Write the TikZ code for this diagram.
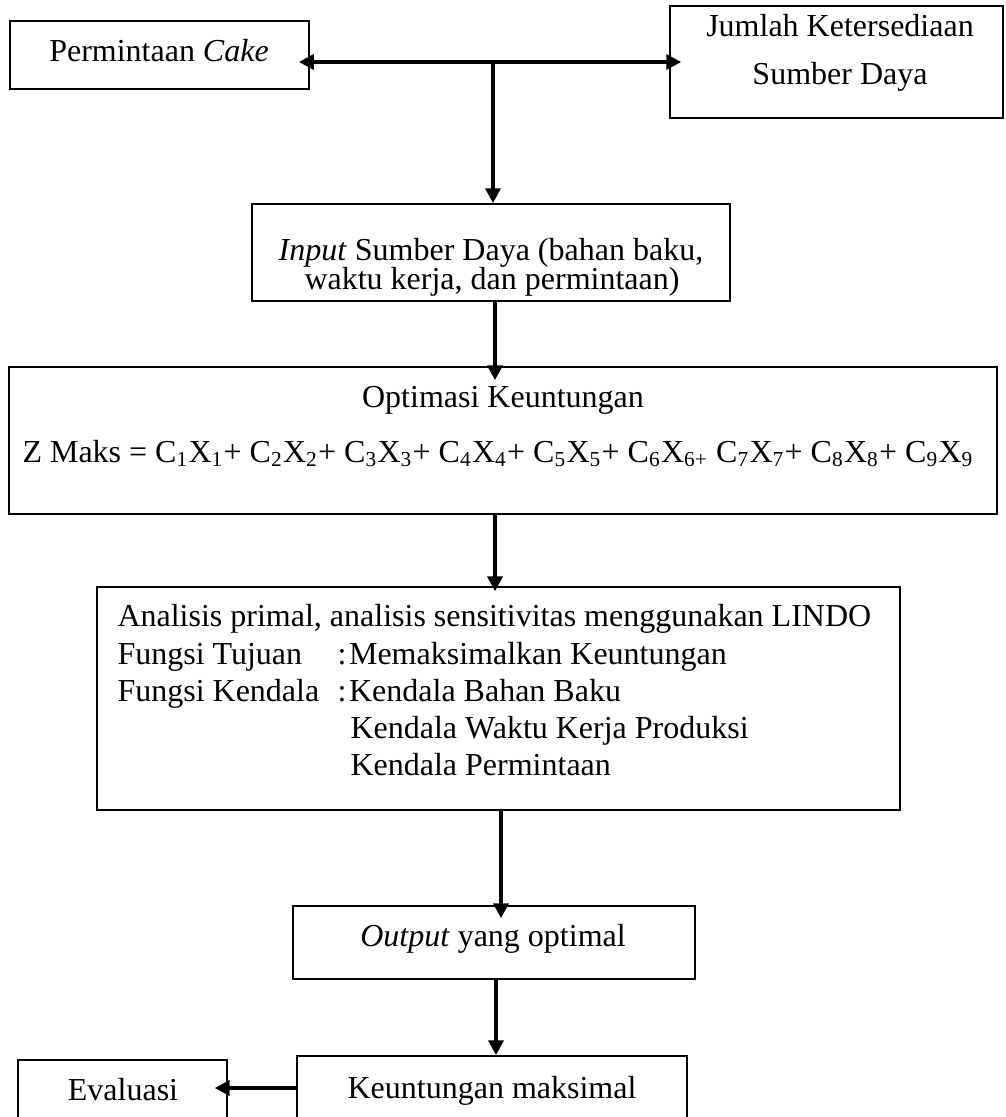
\documentclass[tikz,border=0pt]{standalone}
\usepackage{fontspec}
\setmainfont{Liberation Serif}
\usetikzlibrary{arrows.meta,fit,calc}
\begin{document}
\begin{tikzpicture}[x=0.375pt,y=-0.375pt,
  box/.style={draw,line width=0.6pt,inner sep=0pt},
  txt/.style={inner sep=0pt,anchor=base,font=\fontsize{12}{14}\selectfont},
  txtl/.style={txt,anchor=base west},
  arr/.style={line width=1.5pt,-{Triangle[length=5.6pt,width=5.6pt]}},
  darr/.style={line width=1.5pt,{Triangle[length=5.6pt,width=5.6pt]}-{Triangle[length=5.6pt,width=5.6pt]}}]
\useasboundingbox (0,0) rectangle (1005,1117);
% boxes
\node[box,fit={(10,21) (309,89)}] (perm) {};
\node[box,fit={(670,6) (1003,118)}] (jumlah) {};
\node[box,fit={(252,204) (730,301)}] (input) {};
\node[box,fit={(9,367) (997,514)}] (optim) {};
\node[box,fit={(97,587) (900,810)}] (anal) {};
\node[box,fit={(293,906) (695,979)}] (output) {};
\node[box,fit={(297,1056) (687,1130)}] (keunt) {};
\node[box,fit={(18,1060) (227,1130)}] (eval) {};
% texts
\node[txt] (tperm) at (159,62) {Permintaan \textit{Cake}};
\node[txt] (tjum1) at (840,37) {Jumlah Ketersediaan};
\node[txt] (tjum2) at (840,84) {Sumber Daya};
\node[txt] (tin1) at (491,260) {\textit{Input} Sumber Daya (bahan baku,};
\node[txt] (tin2) at (492,289) {waktu kerja, dan permintaan)};
\node[txt] (topt) at (503,407) {Optimasi Keuntungan};
\node[txtl] (tz) at (22,462) {Z Maks = C\textsubscript{1}X\textsubscript{1}+ C\textsubscript{2}X\textsubscript{2}+ C\textsubscript{3}X\textsubscript{3}+ C\textsubscript{4}X\textsubscript{4}+ C\textsubscript{5}X\textsubscript{5}+ C\textsubscript{6}X\textsubscript{6+} C\textsubscript{7}X\textsubscript{7}+ C\textsubscript{8}X\textsubscript{8}+ C\textsubscript{9}X\textsubscript{9}};
\node[txtl] (ta1) at (117,626) {Analisis primal, analisis sensitivitas menggunakan LINDO};
\node[txtl] (ta2) at (117,664) {Fungsi Tujuan};
\node[txtl] (ta2b) at (337,664) {:\hspace{1pt}Memaksimalkan Keuntungan};
\node[txtl] (ta3) at (117,701) {Fungsi Kendala};
\node[txtl] (ta3b) at (337,701) {:\hspace{1pt}Kendala Bahan Baku};
\node[txtl] (ta4) at (350,738) {Kendala Waktu Kerja Produksi};
\node[txtl] (ta5) at (350,775) {Kendala Permintaan};
\node[txt] (tout) at (493,946) {\textit{Output} yang optimal};
\node[txt] (tkeu) at (492,1098) {Keuntungan maksimal};
\node[txt] (tev) at (123,1100) {Evaluasi};
% connectors
\draw[darr,shorten <=-4.1pt,shorten >=-4.5pt] (perm.east |- jumlah.west) -- (jumlah.west);
\coordinate (hmid) at (jumlah.west -| 493,0);
\draw[arr] (hmid) -- (hmid |- input.north);
\draw[arr,shorten >=-5.25pt] (input.south -| 495,0) -- (optim.north -| 495,0);
\draw[arr,shorten >=-1.9pt] (optim.south -| 495,0) -- (anal.north -| 495,0);
\draw[arr,shorten >=-4.9pt] (anal.south -| 501,0) -- (output.north -| 501,0);
\draw[arr] (output.south -| 496,0) -- (keunt.north -| 496,0);
\draw[arr,shorten >=-4.9pt] (keunt.west |- 0,1088) -- (eval.east |- 0,1088);
\end{tikzpicture}
\end{document}
